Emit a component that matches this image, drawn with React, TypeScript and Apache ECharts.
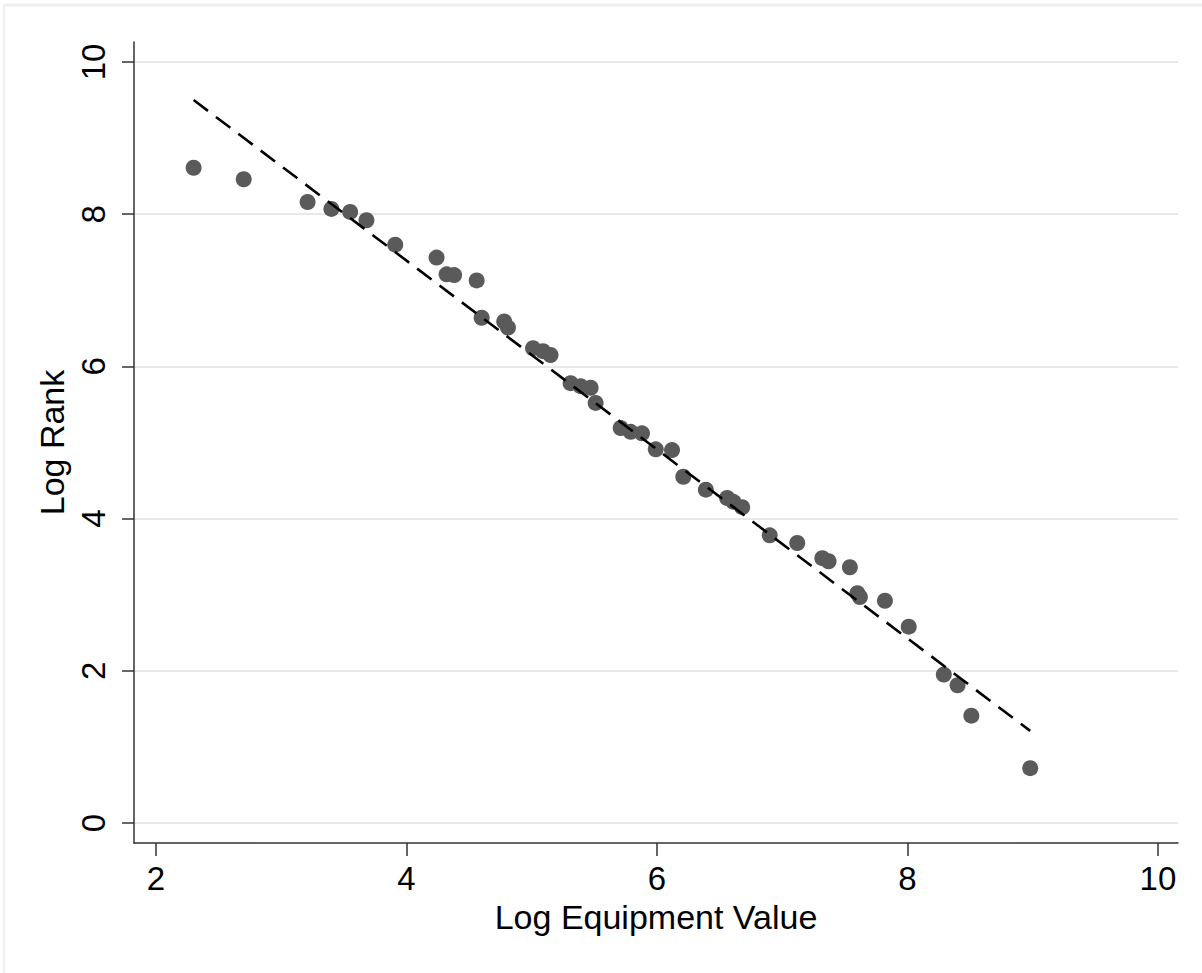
import React, { useEffect, useRef } from "react";
import * as echarts from "echarts";

const logEquipment = [
  2.30, 2.70, 3.21, 3.40, 3.55, 3.68, 3.91, 4.24, 4.32, 4.38, 4.56, 4.60, 4.78, 4.81,
  5.01, 5.09, 5.15, 5.31, 5.39, 5.47, 5.51, 5.71, 5.79, 5.88, 5.99, 6.12, 6.21, 6.39,
  6.56, 6.61, 6.68, 6.90, 7.12, 7.32, 7.37, 7.54, 7.60, 7.62, 7.82, 8.01, 8.29, 8.40,
  8.51, 8.98,
];
const logRank = [
  8.61, 8.46, 8.16, 8.07, 8.03, 7.92, 7.60, 7.43, 7.21, 7.20, 7.13, 6.64, 6.59, 6.51,
  6.24, 6.20, 6.15, 5.78, 5.74, 5.72, 5.52, 5.19, 5.14, 5.12, 4.91, 4.90, 4.55, 4.38,
  4.27, 4.22, 4.15, 3.78, 3.68, 3.48, 3.44, 3.36, 3.02, 2.97, 2.92, 2.58, 1.95, 1.81,
  1.41, 0.72,
];
const fitX = [2.30, 8.98];
const fitY = [9.50, 1.21];
const xTicks = [2, 4, 6, 8, 10];
const yTicks = [0, 2, 4, 6, 8, 10];

const FONT = "'Liberation Sans', Arial, sans-serif";

export default function App() {
  const ref = useRef<HTMLDivElement>(null);
  useEffect(() => {
    if (!ref.current) return;
    const chart = echarts.init(ref.current, null, { renderer: "svg" });
    const points = logEquipment.map((x, i) => [x, logRank[i]]);
    const fit = fitX.map((x, i) => [x, fitY[i]]);
    chart.setOption({
      animation: false,
      backgroundColor: "#ffffff",
      textStyle: { fontFamily: FONT },
      grid: { left: 134, right: 24, top: 42, bottom: 130, containLabel: false },
      xAxis: {
        type: "value",
        min: 1.824,
        max: 10.16,
        name: "Log Equipment Value",
        nameLocation: "middle",
        nameGap: 54,
        nameTextStyle: { fontSize: 34, color: "#000", fontFamily: FONT },
        axisLine: { show: true, onZero: false, lineStyle: { color: "#333", width: 1.5 } },
        axisTick: { show: true, length: 13, customValues: xTicks, lineStyle: { color: "#333", width: 1.5 } },
        axisLabel: { customValues: xTicks, fontSize: 33, color: "#000", margin: 19, fontFamily: FONT },
        splitLine: { show: false },
      },
      yAxis: {
        type: "value",
        min: -0.263,
        max: 10.263,
        name: "Log Rank",
        nameLocation: "middle",
        nameGap: 62,
        nameRotate: 90,
        nameTextStyle: { fontSize: 34, color: "#000", fontFamily: FONT },
        axisLine: { show: true, onZero: false, lineStyle: { color: "#333", width: 1.5 } },
        axisTick: { show: true, length: 12, customValues: yTicks, lineStyle: { color: "#333", width: 1.5 } },
        axisLabel: { customValues: yTicks, rotate: 90, fontSize: 33, color: "#000", margin: 24, fontFamily: FONT },
        splitLine: { show: true, lineStyle: { color: "#e8e8e8", width: 2 } },
      },
      graphic: [
        { type: "line", shape: { x1: 4, y1: 5, x2: 1202, y2: 5 }, style: { stroke: "#efefef", lineWidth: 3 } },
        { type: "line", shape: { x1: 4, y1: 5, x2: 4, y2: 973 }, style: { stroke: "#efefef", lineWidth: 2 } },
      ],
      series: [
        {
          type: "scatter",
          data: points,
          symbol: "circle",
          symbolSize: 16,
          itemStyle: { color: "#5a5a5a", opacity: 1 },
          z: 3,
        },
        {
          type: "line",
          data: fit,
          symbol: "none",
          lineStyle: { color: "#000", width: 2.6, type: [18, 10] },
          z: 4,
        },
      ],
    });
    return () => chart.dispose();
  }, []);
  return (
    <div
      ref={ref}
      style={{ position: "fixed", left: 0, top: 0, width: 1202, height: 973 }}
    />
  );
}
